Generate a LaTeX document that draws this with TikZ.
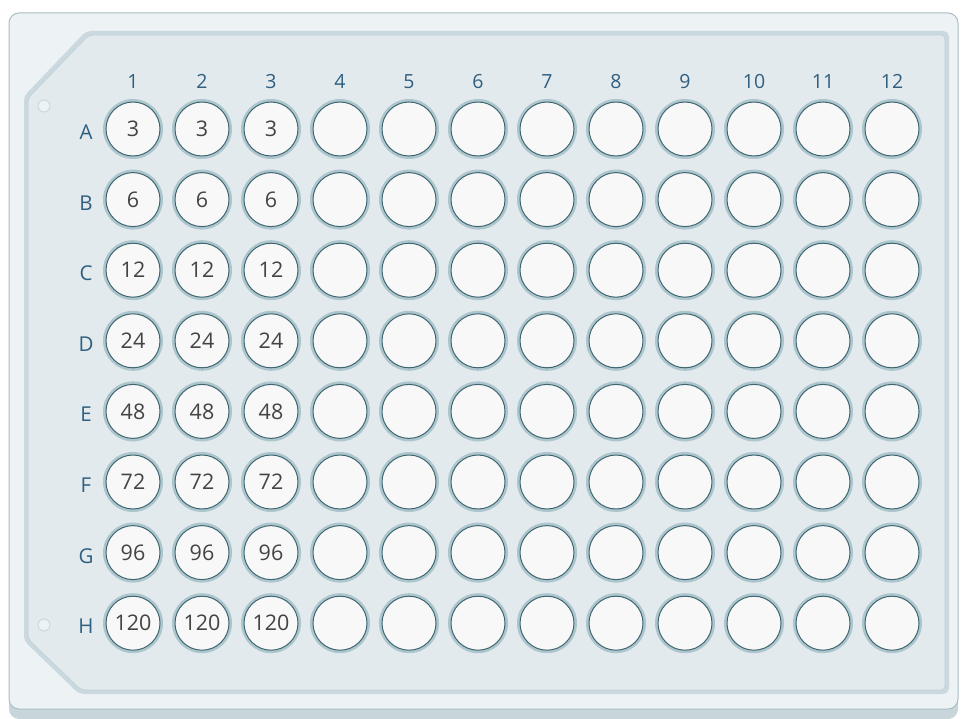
\documentclass[tikz,border=0pt]{standalone}
\usepackage{fontspec}
\setmainfont{Open Sans}
\definecolor{plateout}{HTML}{EDF2F4}
\definecolor{platein}{HTML}{E3EAED}
\definecolor{plateedge}{HTML}{A9BEC6}
\definecolor{innerband}{HTML}{CAD9DF}
\definecolor{shadowc}{HTML}{C8D6DC}
\definecolor{labelc}{HTML}{2F5F80}
\definecolor{wellfill}{HTML}{F8F8F8}
\definecolor{welledge}{HTML}{3F6670}
\definecolor{wellglow}{HTML}{ADC6CE}
\definecolor{numc}{HTML}{444444}
\begin{document}
\begin{tikzpicture}[x=1pt,y=-1pt,
  wellbox/.style={circle,minimum size=54pt,inner sep=0pt,fill=wellfill,draw=welledge,line width=1pt,
    font=\fontsize{21.5}{21.5}\selectfont,text=numc,text height=15.4pt,text depth=0pt},
  glowbox/.style={circle,minimum size=60pt,inner sep=0pt,fill=wellglow},
  collab/.style={font=\fontsize{19.5}{19.5}\selectfont,text=labelc,anchor=base},
  rowlab/.style={font=\fontsize{20.5}{20.5}\selectfont,text=labelc,anchor=base},
  holebox/.style={circle,minimum size=12pt,inner sep=0pt,draw=innerband,line width=1pt,fill=plateout}]
\useasboundingbox (0,0) rectangle (963,719);
% outer plate with bottom shadow
\fill[shadowc, rounded corners=10pt] (9,20) rectangle (958,719);
\filldraw[fill=plateout,draw=plateedge,line width=1pt, rounded corners=10pt] (9,13) rectangle (958,709);
% inner plate
\filldraw[fill=platein,draw=innerband,line width=4pt,rounded corners=4pt]
  (87,33) -- (947,33) -- (947,692) -- (80,692) -- (26,640) -- (26,97) -- cycle;
\draw[draw=plateedge!70,line width=0.8pt,rounded corners=4pt]
  (89,35) -- (945,35) -- (945,690) -- (81,690) -- (28,639) -- (28,98) -- cycle;
% holes
\node[holebox] (h1) at (44,106) {};
\node[holebox] (h2) at (44,625) {};
% labels and wells
\foreach \c in {1,...,12} {
  \node[collab] (c\c) at ({133+69*(\c-1)},89) {\c};
}
\foreach \r [count=\i from 0] in {A,B,C,D,E,F,G,H} {
  \node[rowlab] (r\r) at (86,{139.5+70.6*\i}) {\r};
  \foreach \c in {1,...,12} {
    \node[glowbox] (g\r\c) at ({133+69*(\c-1)},{129+70.6*\i}) {};
  }
}
\foreach \r/\v [count=\i from 0] in {A/3,B/6,C/12,D/24,E/48,F/72,G/96,H/120} {
  \foreach \c in {1,...,12} {
    \ifnum\c<4
      \node[wellbox] (w\r\c) at ({133+69*(\c-1)},{129+70.6*\i}) {\v};
    \else
      \node[wellbox] (w\r\c) at ({133+69*(\c-1)},{129+70.6*\i}) {};
    \fi
  }
}
\end{tikzpicture}
\end{document}
